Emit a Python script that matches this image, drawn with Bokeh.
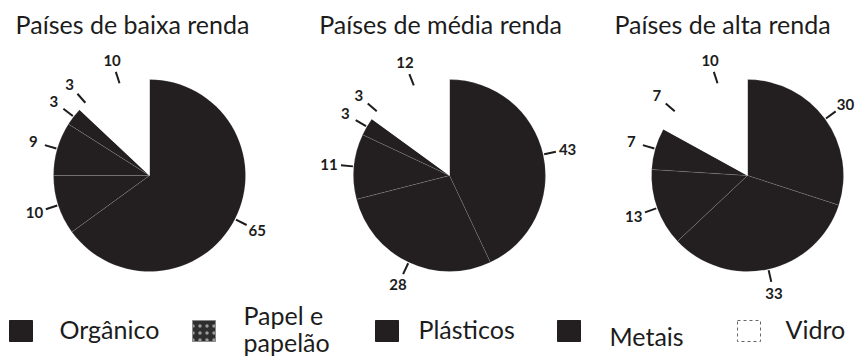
import numpy as np
from bokeh.plotting import figure
from bokeh.models import Range1d
from bokeh.embed import file_html
from bokeh.resources import INLINE
from bokeh.core.properties import value

# ---- data ----
grupos = ["Países de baixa renda", "Países de média renda", "Países de alta renda"]
categorias = ["Orgânico", "Papel e papelão", "Plásticos", "Metais", "Vidro", "Outros"]
baixa = [65, 10, 9, 3, 3, 10]
media = [43, 28, 11, 3, 3, 12]
alta = [30, 33, 13, 7, 7, 10]
legenda = ["Orgânico", "Papel e papelão", "Plásticos", "Metais", "Vidro"]

# ---- styles ----
DARK = "#231f20"
TXT = "#1c1c1c"
cores = [DARK, DARK, DARK, DARK, "#ffffff", "#ffffff"]
FONT = "Lato"

W, H = 858, 358
p = figure(width=W, height=H, x_range=Range1d(0, W), y_range=Range1d(0, H),
           x_axis_type=None, y_axis_type=None, toolbar_location=None,
           output_backend="svg", min_border=0)
p.min_border_left = p.min_border_right = p.min_border_top = p.min_border_bottom = 0
p.grid.visible = False
p.outline_line_color = None
p.background_fill_color = "white"
p.border_fill_color = "white"

def Y(img_y):
    return H - img_y

centros_x = [149, 449, 747]
centro_y = Y(175)
R = 96
titulo_x = [132, 440, 722]

for gi, valores in enumerate([baixa, media, alta]):
    v = np.array(valores, dtype=float)
    frac = v / v.sum()
    cum = np.concatenate([[0], np.cumsum(frac)])
    start = np.pi / 2 - 2 * np.pi * cum[:-1]
    end = np.pi / 2 - 2 * np.pi * cum[1:]
    cx = centros_x[gi]
    p.wedge(x=[cx] * len(v), y=[centro_y] * len(v), radius=R,
            start_angle=list(start), end_angle=list(end), direction="clock",
            fill_color=cores, line_color="white", line_width=0.8, line_alpha=0.15)
    mid = (start + end) / 2
    p.segment(x0=list(cx + 97 * np.cos(mid)), y0=list(centro_y + 97 * np.sin(mid)),
              x1=list(cx + 109 * np.cos(mid)), y1=list(centro_y + 109 * np.sin(mid)),
              line_color=TXT, line_width=2)
    p.text(x=list(cx + 121 * np.cos(mid)), y=list(centro_y + 121 * np.sin(mid)),
           text=[str(int(a)) for a in valores], text_align="center", text_baseline="middle",
           text_font=value(FONT), text_font_style="bold", text_font_size="15px",
           text_color=TXT)
    p.text(x=[titulo_x[gi]], y=[Y(23)], text=[grupos[gi]], text_align="center",
           text_baseline="middle", text_font=value(FONT), text_font_size="25px",
           text_color=TXT)

# ---- legend ----
sw_x = [9, 192, 375, 557, 737]
txt_x = [59, 243, 418, 609, 785]
sw_w, sw_top, sw_bot = 23, 320, 341
for i, nome in enumerate(legenda):
    x0 = sw_x[i]
    if i == 4:
        p.quad(left=x0, right=x0 + sw_w, top=Y(sw_top), bottom=Y(sw_bot),
               fill_color="white", line_color="#666666", line_dash="3 3", line_width=1)
    elif i == 1:
        p.quad(left=x0, right=x0 + sw_w, top=Y(sw_top), bottom=Y(sw_bot),
               fill_color="#2e2e2e", line_color="#888888", line_width=1,
               hatch_pattern=".", hatch_color="#9a9a9a", hatch_scale=7, hatch_weight=1)
    else:
        p.quad(left=x0, right=x0 + sw_w, top=Y(sw_top), bottom=Y(sw_bot),
               fill_color=DARK, line_color=DARK)
    if i == 1:
        partes = nome.split(" ", 2)
        linhas = [partes[0] + " " + partes[1], partes[2]]
        ys = [Y(314), Y(341)]
    elif i == 3:
        linhas = [nome]
        ys = [Y(335)]
    else:
        linhas = [nome]
        ys = [Y(328)]
    p.text(x=[txt_x[i]] * len(linhas), y=ys, text=linhas, text_align="left",
           text_baseline="middle", text_font=value(FONT), text_font_size="25px",
           text_color=TXT)

open("out.html", "w").write(file_html(p, INLINE))
